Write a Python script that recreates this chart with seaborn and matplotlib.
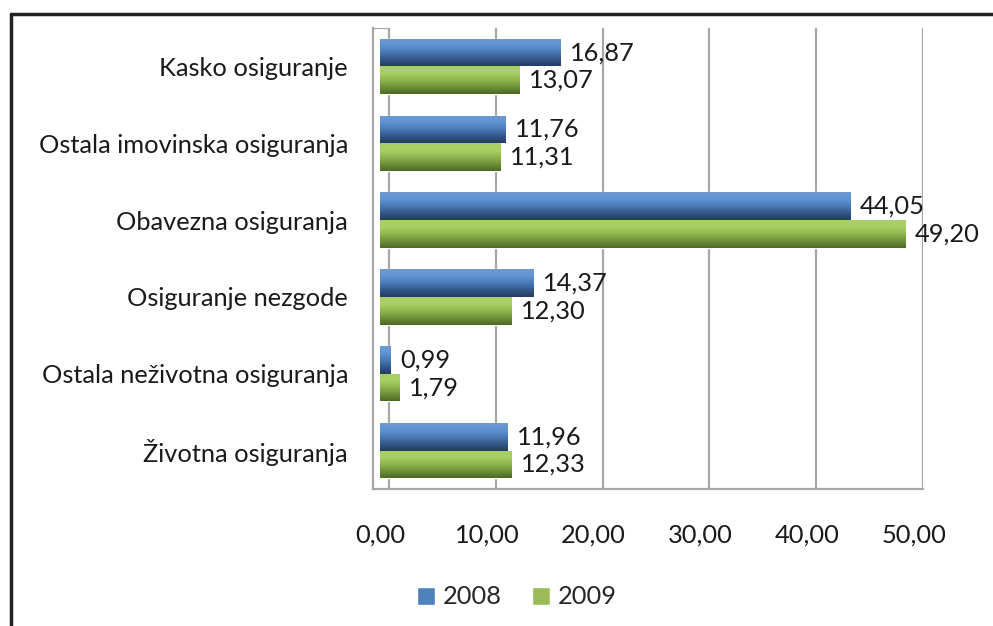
import numpy as np
import pandas as pd
import matplotlib
matplotlib.use("Agg")
import matplotlib.pyplot as plt
from matplotlib.colors import LinearSegmentedColormap
from matplotlib.lines import Line2D
import seaborn as sns

# %% data
categories = ["Kasko osiguranje", "Ostala imovinska osiguranja", "Obavezna osiguranja",
              "Osiguranje nezgode", "Ostala neživotna osiguranja", "Životna osiguranja"]
vals_2008 = [16.87, 11.76, 44.05, 14.37, 0.99, 11.96]
vals_2009 = [13.07, 11.31, 49.20, 12.30, 1.79, 12.33]
years = ["2008", "2009"]
xticks = [0, 10, 20, 30, 40, 50]

df = pd.DataFrame({
    "kategorija": categories * 2,
    "vrijednost": vals_2008 + vals_2009,
    "godina": [years[0]] * len(categories) + [years[1]] * len(categories),
})

# %% style
sns.set_style("white")
plt.rcParams["font.family"] = ["Lato", "DejaVu Sans"]
colors = {"2008": "#4f81bd", "2009": "#9bbb59"}
shades = {
    "2008": ["#6f9ad2", "#5f93d3", "#4a7ab6", "#33588a", "#233d61"],
    "2009": ["#a9cf68", "#a6d163", "#8fb64e", "#6f9139", "#4d6a25"],
}
gray = "#a6a6a6"
fs = 18.3

fig = plt.figure(figsize=(9.93, 6.26), dpi=100)
ax = fig.add_axes([373 / 993, 1 - 489 / 626, 550 / 993, 461 / 626])

sns.barplot(data=df, y="kategorija", x="vrijednost", hue="godina", orient="h",
            palette=colors, width=0.72, ax=ax, legend=True, saturation=1)

# 3d shift of the back wall / gridlines (in data units)
shift = 0.84
xlim = (-0.66, 50 + shift)
ylim = (len(categories) - 0.5, -0.5)

# cylinder-like shading on each bar
grad = np.linspace(0, 1, 64).reshape(-1, 1)
n = len(categories)
for i, patch in enumerate(ax.patches[:2 * n]):
    year = years[i // n]
    cmap = LinearSegmentedColormap.from_list(year, shades[year])
    x, y = patch.get_x(), patch.get_y()
    w, h = patch.get_width(), patch.get_height()
    im = ax.imshow(grad, cmap=cmap, aspect="auto", origin="upper",
                   extent=(x, x + w, y + h, y), zorder=patch.get_zorder() + 0.1)
    im.set_clip_path(patch)
    ax.text(x + w + 0.9, y + h / 2, f"{w:.2f}".replace(".", ","),
            va="center", ha="left", fontsize=fs, color="#1a1a1a", zorder=5)

# gridlines + wall
ax.vlines(np.array(xticks) + shift, ylim[1], ylim[0], color=gray, lw=1.6, zorder=0)
ax.hlines(ylim[1], xlim[0], shift, color=gray, lw=1.6, zorder=0)
ax.set_xlim(*xlim)
ax.set_ylim(*ylim)

for side in ["top", "right"]:
    ax.spines[side].set_visible(False)
for side in ["left", "bottom"]:
    ax.spines[side].set_color(gray)
    ax.spines[side].set_linewidth(1.6)

ax.set_xticks(xticks)
ax.set_xticklabels([f"{t:.2f}".replace(".", ",") for t in xticks], fontsize=fs, color="#1a1a1a")
ax.tick_params(axis="x", length=0, pad=25)
ax.tick_params(axis="y", length=0, pad=18, labelsize=fs, labelcolor="#1a1a1a")
ax.set_xlabel("")
ax.set_ylabel("")

# legend
handles, labels = ax.get_legend_handles_labels()
ax.legend(handles, labels, loc="center", bbox_to_anchor=(517 / 993, 1 - 597 / 626),
          bbox_transform=fig.transFigure, ncol=2, frameon=False, fontsize=fs,
          handlelength=0.7, handleheight=0.7, handletextpad=0.3, columnspacing=1.2)

# outer frame (top and left border of the original image)
fig.add_artist(Line2D([11 / 993, 11 / 993], [0, 1 - 14 / 626], transform=fig.transFigure,
                      color="#222222", lw=2.5))
fig.add_artist(Line2D([11 / 993, 1], [1 - 14 / 626, 1 - 14 / 626], transform=fig.transFigure,
                      color="#222222", lw=2.5))

fig.savefig("out.png", dpi=100)
